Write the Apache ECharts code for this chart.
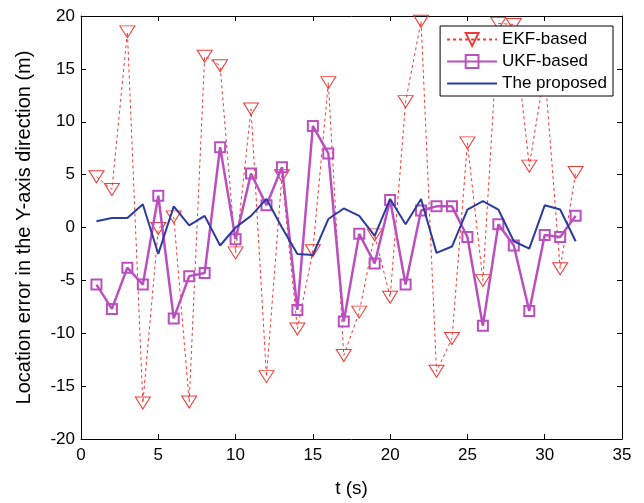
<!DOCTYPE html>
<html>
<head>
<meta charset="utf-8">
<script src="https://cdn.jsdelivr.net/npm/echarts@6/dist/echarts.min.js"></script>
<style>html,body{margin:0;padding:0;background:#fff;}#c{width:644px;height:503px;}</style>
</head>
<body>
<div id="c"></div>
<script>
const tValues = [1,2,3,4,5,6,7,8,9,10,11,12,13,14,15,16,17,18,19,20,21,22,23,24,25,26,27,28,29,30,31,32];
const ekf = [4.8,3.6,18.5,-16.6,-0.1,1.0,-16.5,16.2,15.3,-2.4,11.2,-14.1,4.9,-9.6,-2.2,13.7,-12.1,-8.0,-0.7,-6.6,11.9,19.5,-13.6,-10.5,8.0,-5.0,19.3,19.2,5.8,14.8,-3.9,5.2];
const ukf = [-5.4,-7.7,-3.8,-5.4,3.0,-8.6,-4.6,-4.3,7.6,-1.1,5.1,2.1,5.7,-7.8,9.6,7.0,-8.9,-0.6,-3.4,2.6,-5.4,1.6,2.0,2.0,-0.9,-9.3,0.3,-1.7,-7.9,-0.7,-0.9,1.1];
const proposed = [0.6,0.9,0.9,2.2,-2.5,2.0,0.2,1.1,-1.7,0.0,1.1,2.7,0.0,-2.5,-2.6,0.8,1.8,1.1,-0.8,2.7,0.3,2.7,-2.4,-1.8,1.7,2.5,1.7,-1.3,-2.0,2.1,1.7,-1.3];
const xTicks = [0,5,10,15,20,25,30,35];
const yTicks = [-20,-15,-10,-5,0,5,10,15,20];
const seriesNames = ['EKF-based','UKF-based','The proposed'];

const pair = arr => arr.map((v,i)=>[tValues[i], v]);
const font = 'Liberation Sans, Arial, Helvetica, sans-serif';
const RED = '#ee3b35', MAG = '#bb4fbf', BLUE = '#2b3c9e';

const axisCommon = {
  axisLine:{show:true, onZero:false, lineStyle:{color:'#000', width:1}},
  axisTick:{show:true, inside:true, length:5, lineStyle:{color:'#000'}},
  splitLine:{show:false},
};

const chart = echarts.init(document.getElementById('c'), null, {renderer:'canvas'});
chart.setOption({
  animation:false,
  backgroundColor:'#fff',
  grid:{left:81, right:22, top:16, bottom:62, containLabel:false},
  xAxis:[
    Object.assign({type:'value', min:xTicks[0], max:xTicks[xTicks.length-1], interval:5, position:'bottom',
      name:'t (s)', nameLocation:'middle', nameGap:40,
      nameTextStyle:{fontFamily:font, fontSize:19, color:'#000'},
      axisLabel:{fontFamily:font, fontSize:17, color:'#000', margin:8}}, axisCommon),
    Object.assign({type:'value', min:xTicks[0], max:xTicks[xTicks.length-1], interval:5, position:'top',
      axisLabel:{show:false}}, axisCommon)
  ],
  yAxis:[
    Object.assign({type:'value', min:yTicks[0], max:yTicks[yTicks.length-1], interval:5, position:'left',
      name:'Location error in the Y-axis direction (m)', nameLocation:'middle', nameGap:47,
      nameTextStyle:{fontFamily:font, fontSize:20, color:'#000'},
      axisLabel:{fontFamily:font, fontSize:17, color:'#000', margin:6}}, axisCommon),
    Object.assign({type:'value', min:yTicks[0], max:yTicks[yTicks.length-1], interval:5, position:'right',
      axisLabel:{show:false}}, axisCommon)
  ],
  legend:{
    show:true, orient:'vertical', right:31, top:26, z:50, zlevel:1,
    backgroundColor:'#fff', borderColor:'#000', borderWidth:1, borderRadius:0,
    padding:[5,6,4,6], itemGap:5, itemWidth:50, itemHeight:16,
    textStyle:{fontFamily:font, fontSize:17, color:'#000'},
    data:[
      {name:seriesNames[0]},
      {name:seriesNames[1]},
      {name:seriesNames[2], itemStyle:{opacity:0}}
    ]
  },
  series:[
    {name:seriesNames[0], type:'line', data:pair(ekf), z:3,
      symbol:'triangle', symbolRotate:180, symbolSize:[15,12], showAllSymbol:true,
      lineStyle:{color:RED, width:1, type:[3,3]},
      itemStyle:{color:'rgba(255,255,255,0)', borderColor:RED, borderWidth:1}},
    {name:seriesNames[1], type:'line', data:pair(ukf), z:4,
      symbol:'rect', symbolSize:[10,10], showAllSymbol:true,
      lineStyle:{color:MAG, width:2.5},
      itemStyle:{color:'rgba(255,255,255,0)', borderColor:MAG, borderWidth:2}},
    {name:seriesNames[2], type:'line', data:pair(proposed), z:5,
      symbol:'none', showSymbol:false,
      lineStyle:{color:BLUE, width:2},
      itemStyle:{color:BLUE}}
  ]
});
</script>
</body>
</html>
